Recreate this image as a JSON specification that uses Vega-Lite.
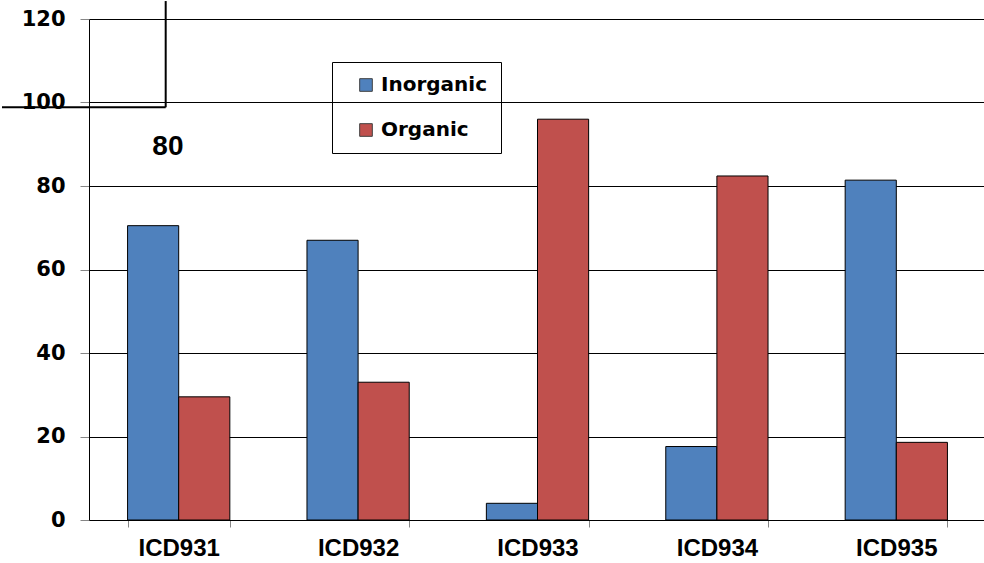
{
  "$schema": "https://vega.github.io/schema/vega-lite/v6.json",
  "width": 897,
  "height": 501,
  "padding": {"left": 0, "top": 0, "right": 0, "bottom": 0},
  "background": "white",
  "config": {
    "view": {"stroke": null},
    "axis": {"domainColor": "#000000", "domainWidth": 1, "tickColor": "#868686", "labelColor": "#000000", "labelFontWeight": "bold"}
  },
  "datasets": {
    "bars": [
      {"sample": "ICD931", "type": "Inorganic", "value": 70.5},
      {"sample": "ICD931", "type": "Organic", "value": 29.5},
      {"sample": "ICD932", "type": "Inorganic", "value": 67.0},
      {"sample": "ICD932", "type": "Organic", "value": 33.0},
      {"sample": "ICD933", "type": "Inorganic", "value": 4.0},
      {"sample": "ICD933", "type": "Organic", "value": 96.0},
      {"sample": "ICD934", "type": "Inorganic", "value": 17.6},
      {"sample": "ICD934", "type": "Organic", "value": 82.4},
      {"sample": "ICD935", "type": "Inorganic", "value": 81.4},
      {"sample": "ICD935", "type": "Organic", "value": 18.6}
    ],
    "lines": [
      {"a": 0.4275, "a2": 0.4275, "b": 98.85, "b2": 124.3},
      {"a": -0.485, "a2": 0.4275, "b": 98.85, "b2": 98.85}
    ],
    "labels": [
      {"a": 0.44, "b": 89.3, "label": "80"}
    ]
  },
  "layer": [
    {
      "data": {"name": "bars"},
      "mark": {"type": "bar", "stroke": "#000000", "strokeWidth": 1},
      "encoding": {
        "x": {
          "field": "sample", "type": "nominal", "title": null,
          "scale": {"paddingInner": 0.43, "paddingOuter": 0.215},
          "axis": {"labelAngle": 0, "labelFont": "Liberation Sans", "labelFontSize": 24, "tickBand": "extent", "tickSize": 7, "labelPadding": 9}
        },
        "xOffset": {"field": "type", "type": "nominal", "sort": ["Inorganic", "Organic"], "scale": {"paddingInner": 0, "paddingOuter": 0}},
        "y": {
          "field": "value", "type": "quantitative", "title": null,
          "scale": {"domain": [0, 120], "nice": false},
          "axis": {"values": [0, 20, 40, 60, 80, 100, 120], "grid": true, "gridColor": "#000000", "gridWidth": 1, "gridOpacity": 1, "tickSize": 9, "labelPadding": 15, "labelFont": "DejaVu Sans", "labelFontSize": 21}
        },
        "color": {
          "field": "type", "type": "nominal",
          "scale": {"domain": ["Inorganic", "Organic"], "range": ["#4F81BD", "#C0504D"]},
          "legend": {
            "title": null, "orient": "none", "legendX": 243, "legendY": 43,
            "strokeColor": "#000000", "padding": 13, "symbolType": "square", "symbolSize": 160,
            "symbolStrokeColor": "#404040", "symbolStrokeWidth": 1, "symbolOffset": 11,
            "labelFont": "DejaVu Sans", "labelFontSize": 20, "labelFontWeight": "bold", "labelColor": "#000000",
            "labelOffset": 5, "rowPadding": 25
          }
        }
      }
    },
    {
      "layer": [
        {
          "data": {"name": "lines"},
          "mark": {"type": "rule", "color": "#000000", "strokeWidth": 2},
          "encoding": {
            "x": {"field": "a", "type": "quantitative", "scale": {"domain": [0, 5], "nice": false, "zero": false}, "axis": null},
            "x2": {"field": "a2"},
            "y": {"field": "b", "type": "quantitative"},
            "y2": {"field": "b2"}
          }
        },
        {
          "data": {"name": "labels"},
          "mark": {"type": "text", "font": "Liberation Sans", "fontSize": 28, "fontWeight": "bold", "color": "#000000", "align": "center", "baseline": "middle"},
          "encoding": {
            "x": {"field": "a", "type": "quantitative", "axis": null},
            "y": {"field": "b", "type": "quantitative"},
            "text": {"field": "label"}
          }
        }
      ]
    }
  ],
  "resolve": {"scale": {"x": "independent"}}
}
